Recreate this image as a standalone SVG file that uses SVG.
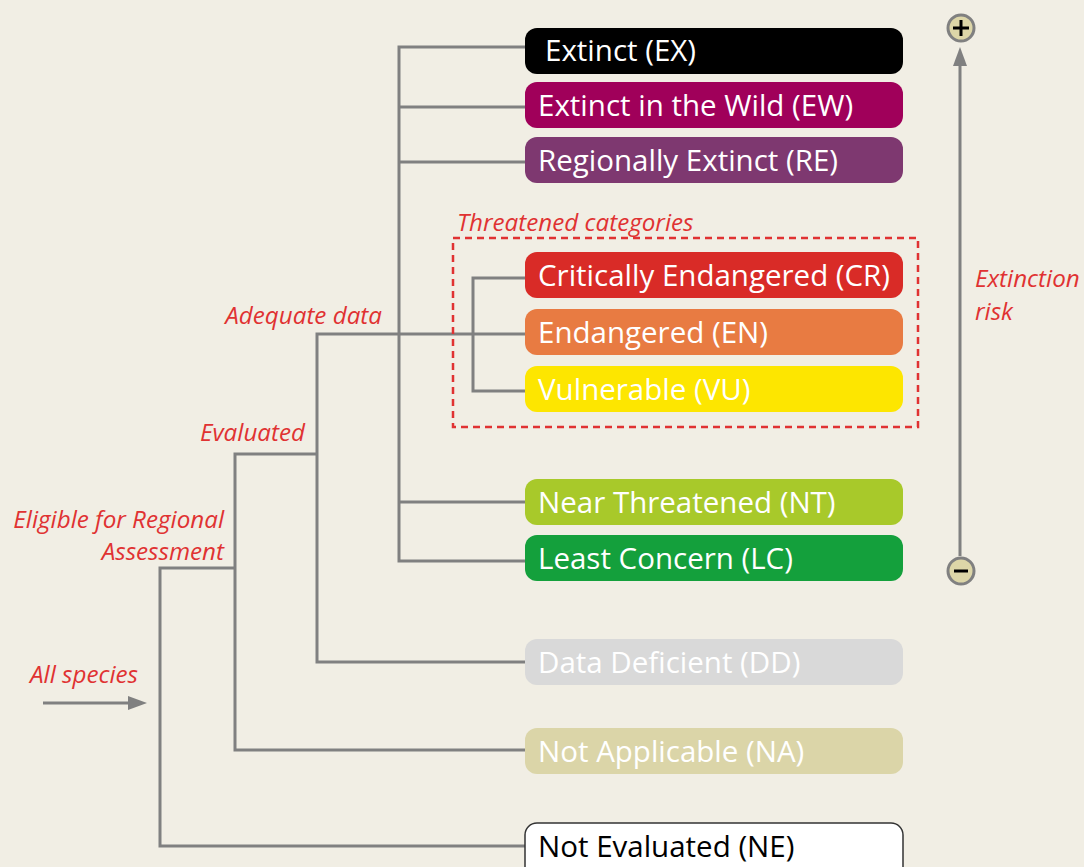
<svg xmlns="http://www.w3.org/2000/svg" width="1084" height="867" viewBox="0 0 1084 867">
<style>
.bg{fill:#f1eee4}
.box{stroke:none}
.bt{font-family:"Open Sans","Liberation Sans",sans-serif;font-size:29.5px;fill:#ffffff}
.lbl{font-family:"Open Sans","Liberation Sans",sans-serif;font-size:24.2px;font-style:italic;fill:#e03232}
.c{fill:none;stroke:#808080;stroke-width:3}
</style>
<rect class="bg" x="0" y="0" width="1084" height="867"/>
<g id="connectors">
<path class="c" d="M525,47 H399 V561 H525 M399,107 H525 M399,162 H525 M399,502 H525"/>
<path class="c" d="M525,662 H317 V334 H525 M525,278 H473 V391 H525"/>
<path class="c" d="M317,454 H235 V750 H525"/>
<path class="c" d="M235,568 H160 V846 H525"/>
<line x1="43" y1="703" x2="133" y2="703" stroke="#808080" stroke-width="3"/>
<path d="M128,696 L147,703 L128,710 z" fill="#808080"/>
<line x1="960" y1="66" x2="960" y2="556" stroke="#808080" stroke-width="3"/>
<path d="M953,66 L960,47 L967,66 z" fill="#808080"/>
</g>
<rect x="453" y="238" width="465" height="189" fill="none" stroke="#e03232" stroke-width="2.5" stroke-dasharray="7,5"/>
<g id="ex"><rect class="box" x="525" y="28" width="378" height="46" rx="12" fill="#000000"/><text class="bt" x="545" y="61">Extinct (EX)</text></g>
<g id="ew"><rect class="box" x="525" y="82" width="378" height="46" rx="12" fill="#a0005a"/><text class="bt" x="538" y="116">Extinct in the Wild (EW)</text></g>
<g id="re"><rect class="box" x="525" y="137" width="378" height="46" rx="12" fill="#7e3870"/><text class="bt" x="538" y="171">Regionally Extinct (RE)</text></g>
<g id="cr"><rect class="box" x="525" y="252" width="378" height="46" rx="12" fill="#d92b27"/><text class="bt" x="538" y="286">Critically Endangered (CR)</text></g>
<g id="en"><rect class="box" x="525" y="309" width="378" height="46" rx="12" fill="#e87b42"/><text class="bt" x="538" y="343">Endangered (EN)</text></g>
<g id="vu"><rect class="box" x="525" y="366" width="378" height="46" rx="12" fill="#fde600"/><text class="bt" x="538" y="400">Vulnerable (VU)</text></g>
<g id="nt"><rect class="box" x="525" y="479" width="378" height="46" rx="12" fill="#a8c92a"/><text class="bt" x="538" y="513">Near Threatened (NT)</text></g>
<g id="lc"><rect class="box" x="525" y="535" width="378" height="46" rx="12" fill="#14a03c"/><text class="bt" x="538" y="569">Least Concern (LC)</text></g>
<g id="dd"><rect class="box" x="525" y="639" width="378" height="46" rx="12" fill="#d9d9d9"/><text class="bt" x="538" y="673" fill="#f4f4f4">Data Deficient (DD)</text></g>
<g id="na"><rect class="box" x="525" y="728" width="378" height="46" rx="12" fill="#dbd5a8"/><text class="bt" x="538" y="762">Not Applicable (NA)</text></g>
<g id="ne"><rect x="525" y="823" width="378" height="56" rx="12" fill="#ffffff" stroke="#333333" stroke-width="1.5"/><text class="bt" x="538" y="857" style="fill:#000000">Not Evaluated (NE)</text></g>
<g id="labels">
<text class="lbl" x="457" y="231">Threatened categories</text>
<text class="lbl" x="382" y="324" text-anchor="end">Adequate data</text>
<text class="lbl" x="305" y="441" text-anchor="end">Evaluated</text>
<text class="lbl" x="224" y="528" text-anchor="end">Eligible for Regional</text>
<text class="lbl" x="224" y="560" text-anchor="end">Assessment</text>
<text class="lbl" x="30" y="683">All species</text>
<text class="lbl" x="975" y="287">Extinction</text>
<text class="lbl" x="975" y="320">risk</text>
</g>
<g id="plus"><circle cx="961" cy="28" r="13" fill="#ddd6a8" stroke="#808080" stroke-width="3"/><path d="M953,28 H969 M961,20 V36" stroke="#000" stroke-width="3"/></g>
<g id="minus"><circle cx="961" cy="571" r="13" fill="#ddd6a8" stroke="#808080" stroke-width="3"/><path d="M954,571 H968" stroke="#000" stroke-width="3"/></g>
</svg>
